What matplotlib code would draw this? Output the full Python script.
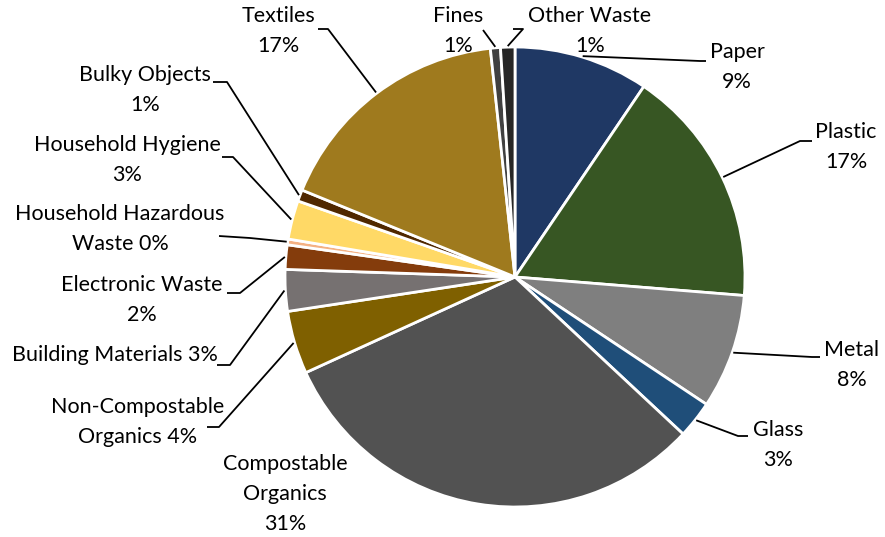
import numpy as np
import matplotlib.pyplot as plt

plt.rcParams['font.family'] = ['Lato', 'DejaVu Sans']

# waste composition (share of total, %)
categories = ['Paper', 'Plastic', 'Metal', 'Glass', 'Compostable Organics',
              'Non-Compostable Organics', 'Building Materials', 'Electronic Waste',
              'Household Hazardous Waste', 'Household Hygiene', 'Bulky Objects',
              'Textiles', 'Fines', 'Other Waste']
shares = [9.4, 16.7, 8.0, 2.6, 31.0, 4.4, 2.9, 1.7, 0.4, 2.7, 0.8, 17.0, 0.7, 1.0]
label_texts = ['Paper\n9%', 'Plastic\n17%', 'Metal\n8%', 'Glass\n3%',
               'Compostable\nOrganics\n31%', 'Non-Compostable\nOrganics 4%',
               'Building Materials 3%', 'Electronic Waste\n2%',
               'Household Hazardous\nWaste 0%', 'Household Hygiene\n3%',
               'Bulky Objects\n1%', 'Textiles\n17%', 'Fines\n1%', 'Other Waste\n1%']
colors = ['#1F3864', '#375623', '#7F7F7F', '#1F4E79', '#525252', '#7F6000',
          '#767171', '#843C0C', '#F4B183', '#FFD966', '#502800', '#9F7A1E',
          '#404040', '#262626']

W, H = 885, 537
cx, cy, R = 515, 277, 230   # pixel coords, y from top


def up(y):
    return H - y


# label layout: text center (x, y), alignment, leader elbow and end (None = no leader)
layout = [
    ((737, 67), 'center', (700, 61), (706, 61)),
    ((846, 147), 'center', (800, 141), (812, 141)),
    ((852, 365), 'center', (812, 357), (820, 357)),
    ((778, 445), 'center', (738, 436), (748, 436)),
    ((285, 494), 'center', None, None),
    ((138, 422), 'center', (219, 427), (207, 427)),
    ((115, 355), 'center', (230, 365), (217, 365)),
    ((142, 300), 'center', (240, 293), (227, 293)),
    ((120, 229), 'center', (250, 238), (219, 236)),
    ((127, 160), 'center', (233, 157), (222, 157)),
    ((145, 90), 'center', (227, 82), (213, 82)),
    ((278, 31), 'center', (328, 29), (318, 29)),
    ((458, 31), 'center', (483, 30), (483, 30)),
    ((590, 31), 'center', (523, 29), (513, 29)),
]

fig = plt.figure(figsize=(W / 100, H / 100), dpi=100)
ax = fig.add_axes([0, 0, 1, 1])

wedges, _ = ax.pie(shares, colors=colors, startangle=90, counterclock=False,
                   center=(cx, up(cy)), radius=R,
                   wedgeprops=dict(edgecolor='white', linewidth=2))

for w, txt, (tpos, ha, elbow, end) in zip(wedges, label_texts, layout):
    ax.text(tpos[0], up(tpos[1]), txt, ha=ha, va='center', fontsize=15.5,
            linespacing=1.6, color='black')
    if elbow is None:
        continue
    mid = np.deg2rad((w.theta1 + w.theta2) / 2)
    ex = cx + (R + 1) * np.cos(mid)
    ey = up(cy) + (R + 1) * np.sin(mid)
    ax.plot([ex, elbow[0], end[0]], [ey, up(elbow[1]), up(end[1])],
            color='black', lw=1.3, solid_capstyle='butt')

ax.set_xlim(0, W)
ax.set_ylim(0, H)
ax.set_aspect('equal')
ax.axis('off')

fig.savefig('out.png', dpi=100, facecolor='white')
